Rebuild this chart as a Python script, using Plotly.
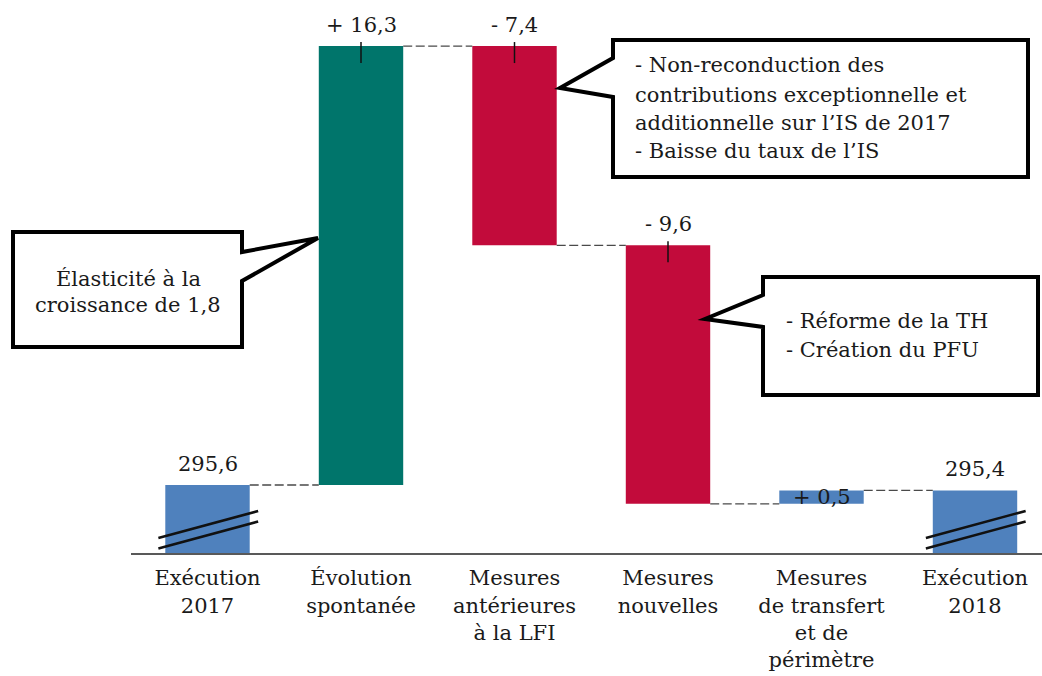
import plotly.graph_objects as go

# Données du graphique (Md€)
categories = ["Exécution<br>2017", "Évolution<br>spontanée", "Mesures<br>antérieures<br>à la LFI",
              "Mesures<br>nouvelles", "Mesures<br>de transfert<br>et de<br>périmètre", "Exécution<br>2018"]
values = [295.6, 16.3, -7.4, -9.6, 0.5, 295.4]
measures = ["total", "relative", "relative", "relative", "relative", "total"]
colors = ["#4F81BD", "#00756B", "#C20B3B", "#C20B3B", "#4F81BD", "#4F81BD"]

callout_1 = ["Élasticité à la", "croissance de 1,8"]
callout_2 = ["- Non-reconduction des", "contributions exceptionnelle et",
             "additionnelle sur l’IS de 2017", "- Baisse du taux de l’IS"]
callout_3 = ["- Réforme de la TH", "- Création du PFU"]

W, H = 1042, 676
FONT = "DejaVu Serif"
TXT = "#1a1a1a"

# axe "cassé" : l'échelle ne commence pas à zéro
PX_PER_UNIT = 26.93
Y_MIN = 293.075
Y_MAX = Y_MIN + 553 / PX_PER_UNIT
X_MIN = -0.5
X_MAX = X_MIN + (W - 130.75) / 153.5
BAR_W = 0.55


def pu(px):
    """pixels -> unités de l'axe y"""
    return px / PX_PER_UNIT


def path_px(points):
    """chemin SVG en coordonnées papier à partir de pixels"""
    pts = ["%s%.5f,%.5f" % ("M" if i == 0 else "L", x / W, 1 - y / H) for i, (x, y) in enumerate(points)]
    return " ".join(pts) + " Z"


# bases / sommets des barres
bases, tops = [], []
running = 0
for v, m in zip(values, measures):
    if m == "total":
        bases.append(0)
        tops.append(v)
        running = v
    else:
        bases.append(running)
        running += v
        tops.append(running)

fig = go.Figure()

fig.add_trace(go.Bar(
    x=list(range(len(values))),
    y=[t - b for t, b in zip(tops, bases)],
    base=bases,
    width=BAR_W,
    marker=dict(color=colors, line=dict(width=0)),
    hoverinfo="skip",
))

# connecteurs en pointillés
cx, cy = [], []
for i in range(len(values) - 1):
    level = tops[i]
    cx += [i + BAR_W / 2, i + 1 - BAR_W / 2, None]
    cy += [level, level, None]
fig.add_trace(go.Scatter(x=cx, y=cy, mode="lines",
                         line=dict(color="#4a4a4a", width=1.3, dash="9px,3.5px"),
                         hoverinfo="skip"))

shapes = []
annotations = []

for i, (v, m) in enumerate(zip(values, measures)):
    hi = max(bases[i], tops[i]) if m == "relative" else tops[i]
    txt = ("%.1f" % abs(v)).replace(".", ",")
    if m == "relative":
        txt = ("+ " if v > 0 else "- ") + txt
    if m == "relative" and abs(v) < 1:
        annotations.append(dict(x=i, y=(bases[i] + tops[i]) / 2, text=txt, showarrow=False,
                                xanchor="center", yanchor="middle",
                                font=dict(family=FONT, size=21, color=TXT)))
    else:
        annotations.append(dict(x=i, y=hi, text=txt, showarrow=False,
                                xanchor="center", yanchor="bottom", yshift=7,
                                font=dict(family=FONT, size=21, color=TXT)))
    if m == "relative" and abs(v) >= 1:
        # petit trait vertical sous l'étiquette
        shapes.append(dict(type="line", xref="x", yref="y", x0=i, x1=i,
                           y0=hi + pu(4), y1=hi - pu(17),
                           line=dict(color="#111111", width=1.5)))
    if m == "total":
        # marques de rupture d'axe
        for dy in (0, pu(10.5)):
            shapes.append(dict(type="line", xref="x", yref="y",
                               x0=i - 0.32, x1=i + 0.33,
                               y0=Y_MIN + pu(15) - dy, y1=Y_MIN + pu(42) - dy,
                               line=dict(color="#111111", width=2.5)))

# bulles de commentaire
bubble = dict(type="path", xref="paper", yref="paper", fillcolor="white",
              line=dict(color="black", width=4), layer="above")
shapes.append(dict(bubble, path=path_px([(13, 232), (242, 232), (242, 252), (318, 238),
                                         (242, 281), (242, 347), (13, 347)])))
shapes.append(dict(bubble, path=path_px([(613, 40), (1028, 40), (1028, 177), (613, 177),
                                         (613, 97), (560, 88), (613, 58)])))
shapes.append(dict(bubble, path=path_px([(763, 277), (1038, 277), (1038, 395), (763, 395),
                                         (763, 327), (705, 319), (763, 295)])))

for txt, yc in zip(callout_1, [279, 305]):
    annotations.append(dict(xref="paper", yref="paper", x=128 / W, y=1 - yc / H, text=txt,
                            showarrow=False, xanchor="center", yanchor="middle",
                            font=dict(family=FONT, size=21, color=TXT)))
for txt, yc in zip(callout_2, [65, 95, 123, 151]):
    annotations.append(dict(xref="paper", yref="paper", x=633 / W, y=1 - yc / H, text=txt,
                            showarrow=False, xanchor="left", yanchor="middle",
                            font=dict(family=FONT, size=21, color=TXT)))
for txt, yc in zip(callout_3, [321, 350]):
    annotations.append(dict(xref="paper", yref="paper", x=784 / W, y=1 - yc / H, text=txt,
                            showarrow=False, xanchor="left", yanchor="middle",
                            font=dict(family=FONT, size=21, color=TXT)))

fig.update_layout(
    width=W, height=H,
    margin=dict(l=0, r=0, t=0, b=0),
    paper_bgcolor="white", plot_bgcolor="white",
    showlegend=False,
    shapes=shapes,
    annotations=annotations,
    xaxis=dict(domain=[130.75 / W, 1], range=[X_MIN, X_MAX],
               tickvals=list(range(len(categories))), ticktext=categories,
               showgrid=False, zeroline=False, showline=True,
               linecolor="#595959", linewidth=2, ticks="", ticklabelstandoff=5,
               tickfont=dict(family=FONT, size=21, color=TXT)),
    yaxis=dict(domain=[1 - 553 / H, 1], range=[Y_MIN, Y_MAX], visible=False),
)

# pas de marge de page autour du graphique
fig.write_html("out.html", config={"displayModeBar": False},
               post_script="document.body.style.margin='0px';")
